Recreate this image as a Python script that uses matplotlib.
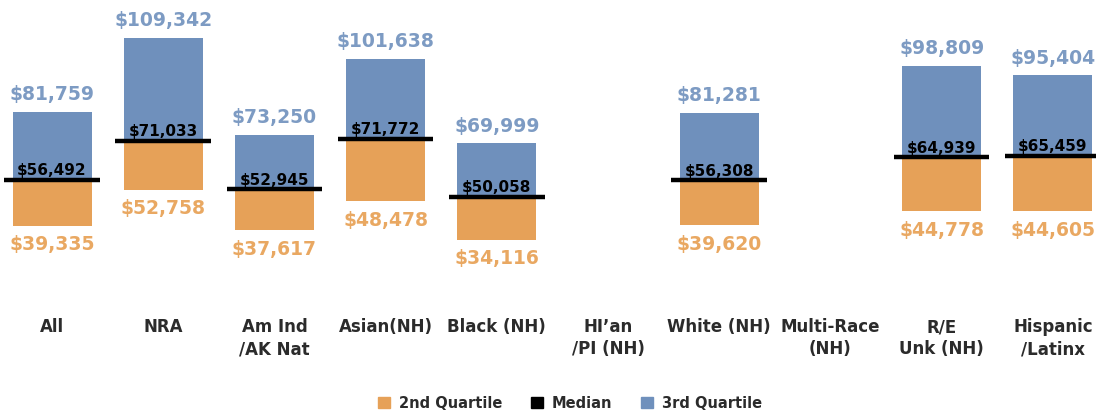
import numpy as np
import matplotlib
matplotlib.use("Agg")
import matplotlib.pyplot as plt
from matplotlib.patches import Patch

plt.rcParams['font.family'] = ['DejaVu Sans Condensed', 'DejaVu Sans']
plt.rcParams['font.weight'] = 'bold'

# data (None = no data shown)
categories = ['All', 'NRA', 'Am Ind\n/AK Nat', 'Asian(NH)', 'Black (NH)',
              'HI\u2019an\n/PI (NH)', 'White (NH)', 'Multi-Race\n(NH)',
              'R/E\nUnk (NH)', 'Hispanic\n/Latinx']
q1 = [39335, 52758, 37617, 48478, 34116, None, 39620, None, 44778, 44605]
median = [56492, 71033, 52945, 71772, 50058, None, 56308, None, 64939, 65459]
q3 = [81759, 109342, 73250, 101638, 69999, None, 81281, None, 98809, 95404]

orange = '#E6A158'
blue = '#6F90BC'
orange_txt = '#E9A862'
blue_txt = '#7D9BC3'
dark = '#2b2b2b'

fig = plt.figure(figsize=(10.96, 4.14), dpi=100)
ax = fig.add_axes([0, 0, 1, 1])
ax.set_xlim(-0.468, 9.388)
ax.set_ylim(-30600, 123900)
ax.axis('off')

x = np.arange(len(categories))
w = 0.71
fmt = lambda v: '${:,}'.format(v)
for i in x:
    if median[i] is None:
        continue
    ax.bar(i, median[i] - q1[i], bottom=q1[i], width=w, color=orange, linewidth=0)
    ax.bar(i, q3[i] - median[i], bottom=median[i], width=w, color=blue, linewidth=0)
    ax.hlines(median[i], i - 0.43, i + 0.43, color='black', linewidth=3.2)
    ax.text(i, q3[i] + 3300, fmt(q3[i]), ha='center', va='bottom',
            fontsize=13.5, color=blue_txt)
    ax.text(i, q1[i] - 3300, fmt(q1[i]), ha='center', va='top',
            fontsize=13.5, color=orange_txt)
    ax.text(i, median[i] + 900, fmt(median[i]), ha='center', va='bottom',
            fontsize=11, color='black')

for i, c in enumerate(categories):
    ax.text(i, 5200, c, ha='center', va='top', fontsize=12, color=dark,
            linespacing=1.3)

handles = [Patch(color=orange, label='2nd Quartile'),
           Patch(color='black', label='Median'),
           Patch(color=blue, label='3rd Quartile')]
fig.legend(handles=handles, loc='lower center', ncol=3, frameon=False,
           bbox_to_anchor=(0.52, -0.025), fontsize=10.5, handlelength=0.8,
           handleheight=0.8, columnspacing=2.0, handletextpad=0.6,
           labelcolor=dark)

fig.savefig('out.png', dpi=100)
